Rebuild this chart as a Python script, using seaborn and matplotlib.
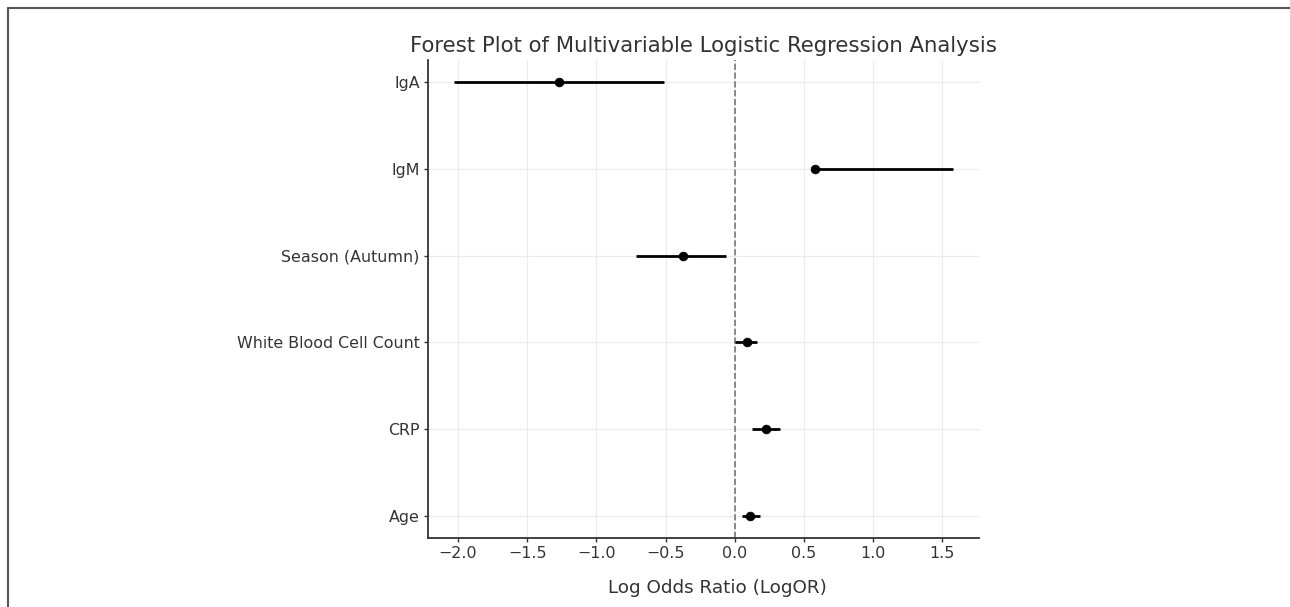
import matplotlib
matplotlib.use("Agg")
import matplotlib.pyplot as plt
import seaborn as sns
import pandas as pd
from matplotlib.lines import Line2D

variables = ["Age", "CRP", "White Blood Cell Count", "Season (Autumn)", "IgM", "IgA"]
log_or = [0.11, 0.227, 0.087, -0.373, 0.584, -1.268]
ci_lower = [0.05, 0.124, 0.004, -0.711, 0.58, -2.026]
ci_upper = [0.183, 0.328, 0.163, -0.061, 1.577, -0.512]

df = pd.DataFrame({"variable": variables, "logor": log_or,
                   "lo": ci_lower, "hi": ci_upper})
df["pos"] = range(len(df))

sns.set_style("whitegrid", {"grid.color": "#ebebeb", "axes.edgecolor": "#333333",
                            "xtick.bottom": True, "ytick.left": True,
                            "text.color": "#333333", "xtick.color": "#333333",
                            "ytick.color": "#333333", "axes.labelcolor": "#333333"})
plt.rcParams["font.family"] = ["DejaVu Sans"]

fig = plt.figure(figsize=(12.9, 6.07), dpi=100)
ax = fig.add_axes([0.3318, 0.1137, 0.759 - 0.3318, 0.901 - 0.1137])

ax.hlines(df["pos"], df["lo"], df["hi"], color="black", linewidth=2, zorder=3)
sns.scatterplot(data=df, x="logor", y="pos", ax=ax, color="black", s=40,
                edgecolor="black", zorder=4, legend=False)
ax.axvline(0, color="#777777", linestyle="--", linewidth=1.2, zorder=2)

ax.set_yticks(df["pos"])
ax.set_yticklabels(df["variable"], fontsize=11.4)
ax.set_ylim(-0.25, 5.25)
ax.set_xlim(-2.217, 1.767)
ax.set_xticks([-2.0, -1.5, -1.0, -0.5, 0.0, 0.5, 1.0, 1.5])
ax.tick_params(axis="x", labelsize=11.4, length=3, width=1, pad=3)
ax.tick_params(axis="y", length=3, width=1, pad=3)
ax.set_ylabel("")
ax.set_xlabel("Log Odds Ratio (LogOR)", fontsize=13.2)
ax.xaxis.set_label_coords(0.525, -0.085)
ax.set_title("Forest Plot of Multivariable Logistic Regression Analysis", fontsize=15.3, pad=6)
sns.despine(ax=ax)
for s in ["left", "bottom"]:
    ax.spines[s].set_linewidth(1.3)

# outer frame lines (top and left)
fig.add_artist(Line2D([8 / 1290, 1.0], [1 - 8 / 607, 1 - 8 / 607], transform=fig.transFigure,
                      color="#555555", linewidth=1.5))
fig.add_artist(Line2D([8 / 1290, 8 / 1290], [0.0, 1 - 8 / 607], transform=fig.transFigure,
                      color="#555555", linewidth=1.5))

fig.savefig("out.png", dpi=100)
